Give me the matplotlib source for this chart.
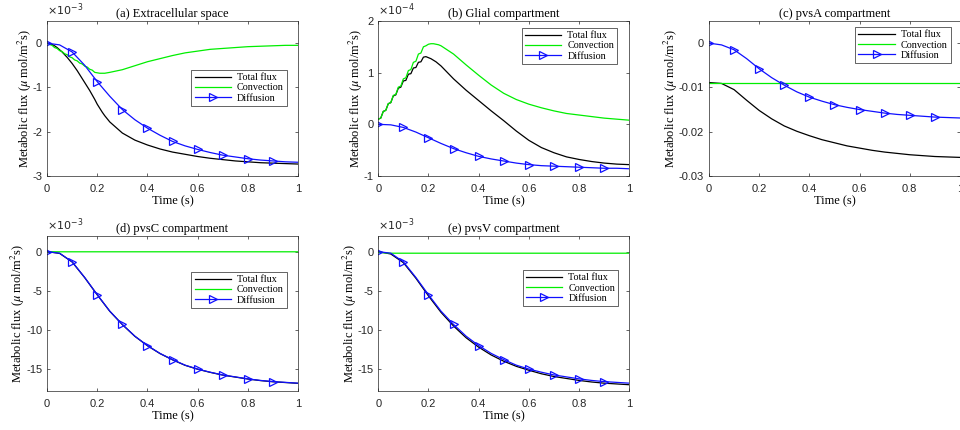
import numpy as np
import matplotlib
matplotlib.use('Agg')
import matplotlib.pyplot as plt
from matplotlib.ticker import FuncFormatter

plt.rcParams['axes.unicode_minus'] = False
plt.rcParams['font.family'] = 'Liberation Serif'
plt.rcParams['mathtext.fontset'] = 'stix'

# time grids (s)
t_fine = [0.00, 0.01, 0.02, 0.03, 0.04, 0.05, 0.06, 0.07, 0.08, 0.09, 0.10,
          0.11, 0.12, 0.13, 0.14, 0.15, 0.16, 0.17, 0.18, 0.19, 0.20,
          0.21, 0.22, 0.23, 0.24, 0.25, 0.30, 0.35, 0.40, 0.45, 0.50,
          0.55, 0.60, 0.65, 0.70, 0.75, 0.80, 0.85, 0.90, 0.95, 1.00]
t = [0.00, 0.05, 0.10, 0.15, 0.20, 0.25, 0.30, 0.35, 0.40, 0.45, 0.50,
     0.55, 0.60, 0.65, 0.70, 0.75, 0.80, 0.85, 0.90, 0.95, 1.00]

# (a) extracellular space, x1e-3
a_total = [0, -0.01, -0.03, -0.06, -0.10, -0.15, -0.20, -0.26, -0.32, -0.39, -0.46,
           -0.54, -0.62, -0.71, -0.80, -0.89, -0.98, -1.07, -1.17, -1.27, -1.38,
           -1.47, -1.56, -1.64, -1.71, -1.78, -2.03, -2.19, -2.30, -2.39, -2.46,
           -2.51, -2.56, -2.60, -2.63, -2.66, -2.68, -2.70, -2.71, -2.72, -2.73]
a_conv = [0, -0.03, -0.05, -0.10, -0.12, -0.17, -0.19, -0.24, -0.26, -0.31, -0.33,
          -0.38, -0.40, -0.45, -0.47, -0.52, -0.54, -0.59, -0.61, -0.66, -0.67,
          -0.68, -0.68, -0.68, -0.67, -0.66, -0.60, -0.51, -0.42, -0.35, -0.28,
          -0.22, -0.18, -0.14, -0.12, -0.10, -0.08, -0.07, -0.06, -0.05, -0.05]
a_diff = [0, -0.04, -0.20, -0.50, -0.87, -1.20, -1.50, -1.73, -1.92, -2.08, -2.22,
          -2.32, -2.40, -2.47, -2.53, -2.57, -2.61, -2.64, -2.66, -2.68, -2.69]

# (b) glial compartment, x1e-4
b_total = [0.10, 0.12, 0.25, 0.27, 0.40, 0.42, 0.55, 0.57, 0.70, 0.72, 0.84,
           0.85, 0.97, 0.98, 1.09, 1.10, 1.20, 1.21, 1.30, 1.31, 1.29,
           1.27, 1.24, 1.21, 1.17, 1.13, 0.88, 0.66, 0.46, 0.26, 0.07,
           -0.13, -0.31, -0.45, -0.55, -0.63, -0.68, -0.72, -0.75, -0.77, -0.78]
b_conv = [0.10, 0.12, 0.25, 0.27, 0.40, 0.42, 0.56, 0.58, 0.72, 0.74, 0.88,
          0.90, 1.04, 1.06, 1.20, 1.22, 1.36, 1.38, 1.50, 1.52, 1.55,
          1.56, 1.56, 1.55, 1.54, 1.52, 1.36, 1.15, 0.95, 0.76, 0.60,
          0.48, 0.39, 0.32, 0.26, 0.21, 0.18, 0.15, 0.12, 0.10, 0.08]
b_diff = [0, -0.01, -0.06, -0.15, -0.26, -0.37, -0.47, -0.55, -0.62, -0.67, -0.71,
          -0.75, -0.78, -0.80, -0.81, -0.82, -0.83, -0.84, -0.85, -0.85, -0.86]

# (c) pvsA compartment
c_total = [-0.0089, -0.0091, -0.0105, -0.0129, -0.0152, -0.0171, -0.0187, -0.0199,
           -0.0209, -0.0218, -0.0225, -0.0232, -0.0237, -0.0242, -0.0246, -0.0249,
           -0.0252, -0.0254, -0.0256, -0.0257, -0.0258]
c_conv = [-0.0089] * 21
c_diff = [0, -0.0004, -0.0015, -0.0035, -0.0058, -0.0078, -0.0095, -0.0110, -0.0122,
          -0.0131, -0.0139, -0.0145, -0.0150, -0.0154, -0.0158, -0.0161, -0.0163,
          -0.0165, -0.0167, -0.0168, -0.0169]

# (d) pvsC compartment, x1e-3
d_total = [0, -0.22, -1.32, -3.32, -5.52, -7.62, -9.32, -10.82, -12.02, -13.02, -13.82,
           -14.52, -15.02, -15.42, -15.77, -16.02, -16.27, -16.47, -16.62, -16.72, -16.82]
d_conv = [0] + [-0.02] * 20
d_diff = [0, -0.2, -1.3, -3.3, -5.5, -7.6, -9.3, -10.8, -12.0, -13.0, -13.8,
          -14.5, -15.0, -15.4, -15.75, -16.0, -16.25, -16.45, -16.6, -16.7, -16.8]

# (e) pvsV compartment, x1e-3
e_total = [0, -0.3, -1.4, -3.4, -5.65, -7.75, -9.5, -11.0, -12.2, -13.2, -14.0,
           -14.65, -15.15, -15.6, -15.95, -16.2, -16.45, -16.65, -16.8, -16.9, -17.0]
e_conv = [-0.1] + [-0.2] * 20
e_diff = d_diff

panels = [
    ('(a) Extracellular space', t_fine, a_total, t_fine, a_conv, a_diff, 1e-3,
     (-3e-3, 0.5e-3), [-3e-3, -2e-3, -1e-3, 0], (0.956, 0.684)),
    ('(b) Glial compartment', t_fine, b_total, t_fine, b_conv, b_diff, 1e-4,
     (-1e-4, 2e-4), [-1e-4, 0, 1e-4, 2e-4], (0.952, 0.955)),
    ('(c) pvsA compartment', t, c_total, t, c_conv, c_diff, None,
     (-0.03, 0.005), [-0.03, -0.02, -0.01, 0], (0.964, 0.96)),
    ('(d) pvsC compartment', t, d_total, t, d_conv, d_diff, 1e-3,
     (-17.8e-3, 2e-3), [-15e-3, -10e-3, -5e-3, 0], (0.956, 0.768)),
    ('(e) pvsV compartment', t, e_total, t, e_conv, e_diff, 1e-3,
     (-17.8e-3, 2e-3), [-15e-3, -10e-3, -5e-3, 0], (0.956, 0.78)),
]
positions = [[0.049, 0.5907, 0.2615, 0.3605],
             [0.394, 0.5907, 0.2615, 0.3605],
             [0.7385, 0.5907, 0.2615, 0.3605],
             [0.049, 0.0907, 0.2615, 0.3605],
             [0.394, 0.0907, 0.2615, 0.3605]]

gray = '#262626'
fig = plt.figure(figsize=(9.6, 4.3), dpi=100)

for pos, p in zip(positions, panels):
    title, tt, total, tc, conv, diff, scale, ylim, yticks, leg = p
    s = scale if scale else 1.0
    ax = fig.add_axes(pos)
    ax.plot(tt, np.array(total) * s, color='black', lw=0.9, label='Total flux')
    ax.plot(tc, np.array(conv) * s, color='#00ee00', lw=0.9, label='Convection')
    ax.plot(t, np.array(diff) * s, '->', color='#1010ff', lw=0.9, ms=6,
            mfc='none', mew=0.9, markevery=slice(0, 19, 2), label='Diffusion')
    ax.set_xlim(0, 1)
    ax.set_ylim(*ylim)
    ax.set_xticks([0, 0.2, 0.4, 0.6, 0.8, 1.0])
    ax.set_yticks(yticks)
    ax.xaxis.set_major_formatter(FuncFormatter(lambda v, _: '%g' % v))
    ax.yaxis.set_major_formatter(FuncFormatter(lambda v, _, s=s: '%g' % round(v / s, 6)))
    ax.tick_params(direction='in', length=2.5, width=0.5, top=True, right=True,
                   colors=gray, labelsize=8)
    ax.tick_params(axis='x', pad=5.5)
    ax.tick_params(axis='y', pad=3.5)
    for lab in ax.get_xticklabels() + ax.get_yticklabels():
        lab.set_fontfamily('Liberation Sans')
    for sp in ax.spines.values():
        sp.set_color(gray)
        sp.set_linewidth(0.5)
    ax.set_title(title, fontsize=9, pad=3, color='black')
    ax.set_xlabel('Time (s)', fontsize=9, labelpad=1)
    ax.set_ylabel(r'Metabolic flux ($\mu$ mol/m$^2$s)', fontsize=9, labelpad=-1)
    if scale:
        exp = int(round(np.log10(scale)))
        ax.text(0.0, 1.02, r'$\times10^{%d}$' % exp, transform=ax.transAxes,
                fontsize=8, color=gray, ha='left', va='bottom',
                math_fontfamily='dejavusans')
    lg = ax.legend(loc='upper right', bbox_to_anchor=leg, fontsize=7.3,
                   handlelength=3.6, labelspacing=0.12, borderpad=0.3,
                   handletextpad=0.6, fancybox=False, framealpha=1,
                   edgecolor=gray, borderaxespad=0)
    lg.get_frame().set_linewidth(0.5)

fig.savefig('out.png', dpi=100)
